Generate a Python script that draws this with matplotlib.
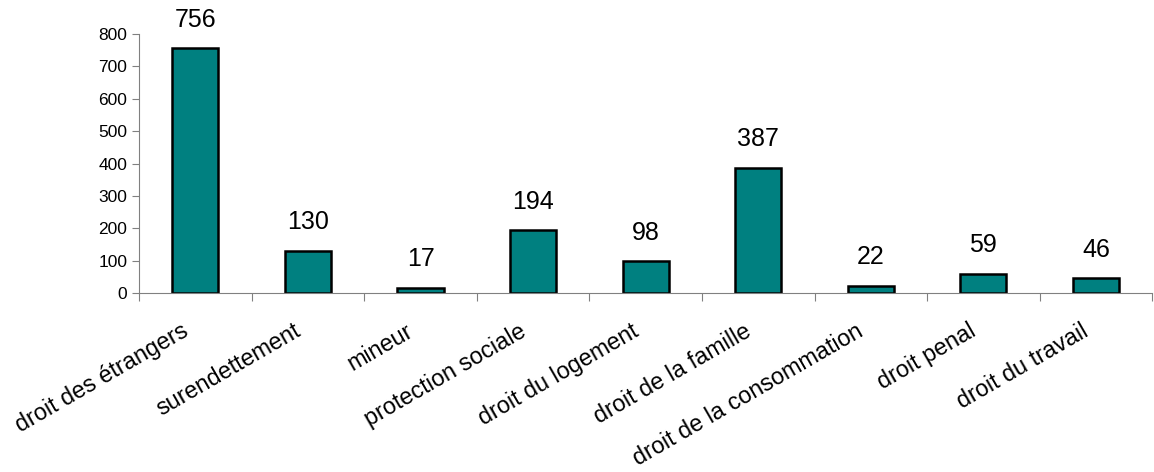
import matplotlib
matplotlib.use("Agg")
import matplotlib.pyplot as plt
import matplotlib.transforms as mtransforms
import numpy as np

plt.rcParams['font.family'] = ['Liberation Sans', 'DejaVu Sans']

categories = ['droit des étrangers', 'surendettement', 'mineur', 'protection sociale',
              'droit du logement', 'droit de la famille', 'droit de la consommation',
              'droit penal', 'droit du travail']
values = [756, 130, 17, 194, 98, 387, 22, 59, 46]

fig = plt.figure(figsize=(11.54, 4.72), dpi=100)
ax = fig.add_axes([0.1205, 0.379, 0.878, 0.549])

x = np.arange(len(categories))
bars = ax.bar(x, values, width=0.41, color='#008080', edgecolor='black', linewidth=1.8)

for xi, v in zip(x, values):
    ax.annotate(str(v), (xi, v), xytext=(0, 12), textcoords='offset points',
                ha='center', va='bottom', fontsize=18)

ax.set_xlim(-0.5, len(categories) - 0.5)
ax.set_ylim(0, 800)
ax.set_yticks(range(0, 801, 100))
ax.tick_params(axis='y', labelsize=12.5, length=5, color='#808080')

# category ticks at boundaries, labels at centres
ax.set_xticks(np.arange(-0.5, len(categories)), minor=False)
ax.set_xticklabels([])
ax.set_xticks(x, minor=True)
ax.set_xticklabels(categories, minor=True, rotation=30, ha='right',
                   rotation_mode='anchor', fontsize=16.8)
ax.tick_params(axis='x', which='major', length=6, color='#808080')
ax.tick_params(axis='x', which='minor', length=0, pad=19)
shift = mtransforms.ScaledTranslation(-15 / 100, 0, fig.dpi_scale_trans)
for lab in ax.get_xticklabels(minor=True):
    lab.set_transform(lab.get_transform() + shift)

for s in ['top', 'right']:
    ax.spines[s].set_visible(False)
for s in ['left', 'bottom']:
    ax.spines[s].set_color('#808080')

fig.savefig('out.png', dpi=100)
